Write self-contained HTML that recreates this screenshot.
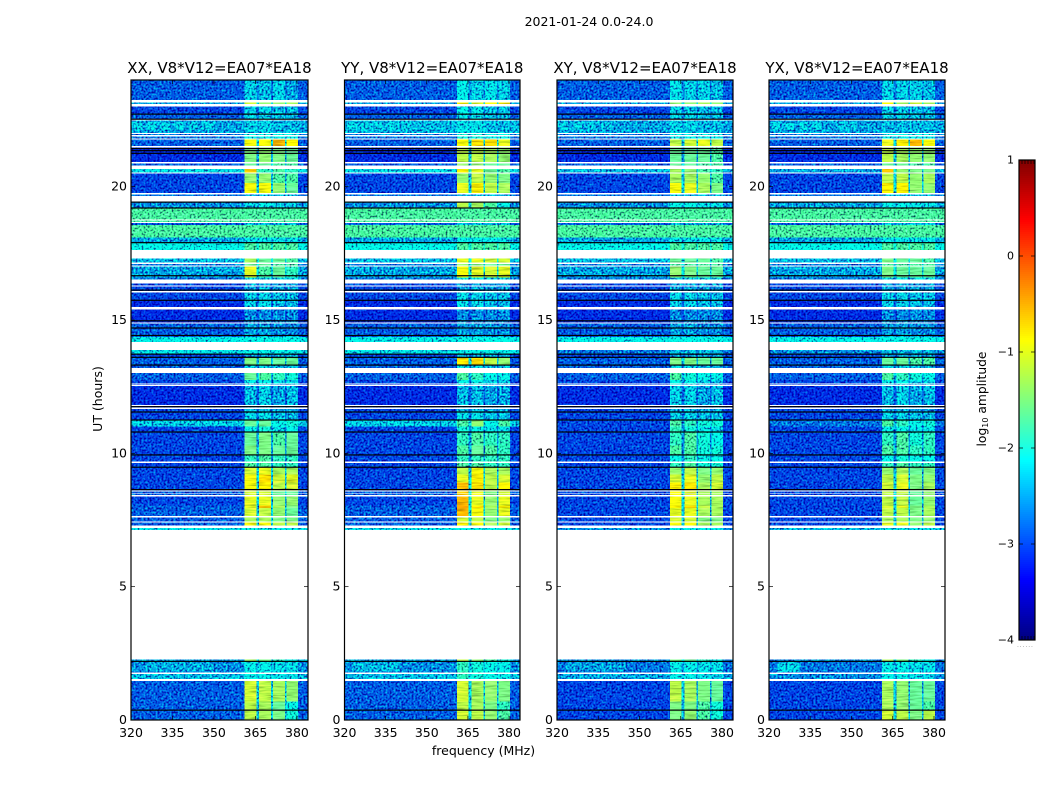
<!DOCTYPE html>
<html lang="en">
<head>
<meta charset="utf-8">
<title>2021-01-24 dynamic spectra</title>
<style>
html,body{margin:0;padding:0;background:#fff;}
svg{display:block;}
text{font-family:"DejaVu Sans","Liberation Sans",sans-serif;fill:#000;}
</style>
</head>
<body>
<svg id="chart" xmlns="http://www.w3.org/2000/svg" width="1050" height="800" viewBox="0 0 1050 800">
<defs>
<filter id="speckle" x="0" y="0" width="100%" height="100%" color-interpolation-filters="sRGB">
<feTurbulence type="fractalNoise" baseFrequency="0.5" numOctaves="2" seed="4" result="n"/>
<feColorMatrix in="n" type="matrix" values="1.4 0 0 0 -0.2 1.4 0 0 0 -0.2 0.75 0 0 0 0.125 0 0 0 0 1" result="g"/>
<feComposite in="SourceGraphic" in2="g" operator="arithmetic" k1="1.7" k2="0.15" k3="0" k4="0" result="m"/>
<feColorMatrix in="n" type="matrix" values="0 0 0 0 0 0.9 0 0 0 -0.27 0 0 0 0 0 0 0 0 0 1" result="a"/>
<feComposite in="m" in2="a" operator="arithmetic" k1="0" k2="1" k3="1" k4="-0.07" result="s"/>
<feComposite in="s" in2="SourceAlpha" operator="in"/>
</filter>
<filter id="smooth" x="0" y="0" width="100%" height="100%" color-interpolation-filters="sRGB">
<feTurbulence type="fractalNoise" baseFrequency="0.06 0.6" numOctaves="2" seed="9" result="n"/>
<feColorMatrix in="n" type="matrix" values="0.45 0 0 0 0.275 0.45 0 0 0 0.275 0.45 0 0 0 0.275 0 0 0 0 1" result="g"/>
<feComposite in="SourceGraphic" in2="g" operator="arithmetic" k1="1.7" k2="0.15" k3="0" k4="0"/>
</filter>
</defs>
<text x="589" y="26" font-size="12.5" text-anchor="middle">2021-01-24 0.0-24.0</text>
<text x="483.5" y="755" font-size="12.5" text-anchor="middle">frequency (MHz)</text>
<text x="0" y="0" font-size="12.5" text-anchor="middle" transform="translate(102,399) rotate(-90)">UT (hours)</text>
<text x="0" y="0" font-size="12.3" text-anchor="middle" transform="translate(986,399) rotate(-90)">log<tspan font-size="8" dy="2">10</tspan><tspan dy="-2"> amplitude</tspan></text>
<text x="1017" y="647" font-size="6" letter-spacing="0.9" style="fill:#888">......</text>
</svg>
<script>
// Axis tick values
const freqTicks = [320, 335, 350, 365, 380];
const timeTicks = [0, 5, 10, 15, 20];
const colorTicks = [1, 0, -1, -2, -3, -4];
const colorTickLabels = ['1', '0', '\u22121', '\u22122', '\u22123', '\u22124'];
// Frequency bins (MHz): background, feed 1, gap, feed 2, gap, feed 3, gap, feed 4, background
const freqEdges = [320, 361, 365.3, 366.3, 370.7, 371.3, 375.7, 376.2, 380.4, 384];
// Hours with flagged (black) integrations
const flaggedHours = [0.37, 2.2, 8.64, 9.48, 9.94, 10.8, 11.25, 11.55, 11.75, 13.31, 13.6, 13.72, 14.42, 14.7, 14.97, 15.74, 16.12, 16.66, 17.9, 19.2, 19.42, 21.25, 21.35, 21.43, 22.53, 22.72];
// Observed time ranges (hours); anything outside them is unobserved and stays white
const rowStart = [0,.38,.7,1.54,1.78,2.21,7.13,7.3,7.45,7.65,7.95,8.05,8.43,8.5,8.6,8.9,9.2,9.49,9.69,9.95,10.3,10.82,11,11.26,11.56,11.71,11.81,12.56,12.62,12.75,13.2,13.32,13.61,13.73,14.17,14.37,14.43,14.71,14.91,15.49,15.75,16.08,16.29,16.52,16.6,17.05,17.15,17.63,17.91,18.1,18.57,18.67,18.77,19.21,19.43,19.65,19.76,20.13,20.54,20.79,20.92,21.52,21.8,21.93,22.01,22.52,22.73,23.1,23.25];
const rowEnd = [.36,.7,1.46,1.73,2.19,2.27,7.2,7.4,7.6,7.95,8.05,8.39,8.47,8.56,8.9,9.2,9.47,9.64,9.93,10.3,10.79,11,11.24,11.54,11.67,11.77,12.52,12.58,12.75,13.02,13.3,13.59,13.71,13.87,14.37,14.41,14.69,14.87,15.4,15.73,16.04,16.25,16.36,16.6,17,17.1,17.31,17.89,18.1,18.57,18.64,18.73,19.19,19.41,19.45,19.7,20.13,20.5,20.67,20.87,21.46,21.76,21.88,21.97,22.48,22.71,23,23.15,24];
// log10 amplitude per row: [background, feed 1, feed 2, feed 3, feed 4]
const ampXX = [[-3,-1.4,-1.5,-1.7,-2.1],[-3,-1.4,-1.5,-1.8,-2.2],[-3,-1.3,-1.4,-1.5,-1.6],[-2.6,-2.3,-2.3,-2.4,-2.4],[-2.8,-2.3,-2.3,-2.4,-2.4],[-2.7,-1.5,-1.7,-2,-2.2],[-2.4,-2.2,-2.2,-2.3,-2.3],[-3,-1.1,-1.1,-1.4,-1.4],[-3,-1.5,-1.5,-1.7,-1.7],[-3,-1.3,-1.4,-1.6,-1.8],[-3,-1.2,-.8,-1.5,-1.7],[-3.1,-1.2,-1.2,-1.6,-1.6],[-3,-1.3,-1.3,-1.8,-1.8],[-3,-1.3,-1.3,-1.8,-1.8],[-3.1,-1.1,-1,-1.4,-1.3],[-3.1,-1.1,-.9,-1.3,-1.2],[-3.1,-1.3,-1.2,-1.5,-1.5],[-3.1,-1.9,-1.9,-2,-2],[-3.1,-2,-1.9,-2,-2],[-3.1,-1.7,-1.7,-1.8,-1.8],[-3.1,-1.8,-1.7,-1.9,-1.8],[-3.1,-2.2,-2.1,-2.4,-2.3],[-2.5,-1.8,-1.8,-2.2,-2.1],[-3.1,-2.5,-2.4,-2.6,-2.6],[-3.1,-2.6,-2.6,-2.7,-2.7],[-3.1,-2.6,-2.6,-2.7,-2.7],[-3.2,-2.6,-2.5,-2.7,-2.6],[-3.1,-2.6,-2.5,-2.7,-2.6],[-3.1,-2.3,-2.3,-2.5,-2.5],[-3,-1.8,-1.9,-2,-2.1],[-3,-2.5,-2.5,-2.6,-2.6],[-3,-1.7,-1.7,-1.8,-1.8],[-3.1,-2.7,-2.7,-2.7,-2.7],[-2.4,-2.3,-2.3,-2.3,-2.3],[-2.3,-2.2,-2.2,-2.2,-2.2],[-3,-2.7,-2.7,-2.7,-2.7],[-3,-2.7,-2.7,-2.8,-2.8],[-3,-2.7,-2.7,-2.8,-2.8],[-3.2,-2.8,-2.8,-2.8,-2.8],[-3.2,-2.5,-2.4,-2.6,-2.6],[-3.1,-2.5,-2.5,-2.6,-2.6],[-3.1,-2.7,-2.7,-2.7,-2.7],[-3.1,-2.7,-2.7,-2.7,-2.7],[-2.9,-2.4,-2.4,-2.4,-2.4],[-2.7,-1.2,-1.9,-1.8,-2],[-2.9,-1.8,-1.8,-1.9,-1.9],[-2.6,-1.5,-1.8,-1.8,-1.9],[-2.2,-1.9,-1.9,-1.9,-1.9],[-2.7,-2.4,-2.4,-2.4,-2.4],[-1.9,-1.9,-1.9,-1.9,-1.9],[-3,-2.6,-2.6,-2.6,-2.6],[-1.9,-1.9,-1.9,-1.9,-1.9],[-1.9,-1.9,-1.9,-1.9,-1.9],[-2.8,-2.5,-2.3,-2.5,-2.5],[-3,-2.8,-2.8,-2.8,-2.8],[-2.9,-2.6,-2.6,-2.6,-2.6],[-3.1,-1.1,-1.1,-1.6,-1.8],[-3.1,-1.6,-1.6,-1.9,-1.9],[-2.4,-.8,-2,-1.9,-2],[-3,-1.8,-1.8,-1.9,-1.9],[-3.2,-1.7,-1.6,-1.7,-1.8],[-3,-1.1,-1.1,-.7,-1],[-2.9,-2.2,-2.2,-2.2,-2.2],[-2.9,-2.2,-2.2,-2.2,-2.2],[-2.7,-2.5,-2.5,-2.6,-2.6],[-3,-2.5,-2.5,-2.6,-2.6],[-3.1,-2.5,-2.5,-2.6,-2.6],[-2.7,-1.3,-1.6,-1.6,-1.5],[-3,-2.5,-2.6,-2.5,-2.7]];
const ampYY = [[-3,-1.3,-1.4,-1.6,-1.9],[-3,-1.4,-1.5,-1.7,-2],[-3,-1.3,-1.5,-1.6,-1.7],[-2.6,-2,-2.1,-2.2,-2.3],[-2.8,-2,-2.1,-2.2,-2.3],[-2.7,-1.4,-1.6,-1.9,-2.1],[-2.4,-2.2,-2.2,-2.3,-2.3],[-3,-1,-1.1,-1.5,-1.3],[-3,-1.3,-1.4,-1.7,-1.6],[-3,-.7,-1.1,-1.6,-1.2],[-3,-.6,-.9,-1.5,-1],[-3.1,-.7,-1.2,-1.6,-1.2],[-3,-.8,-1.2,-1.7,-1.3],[-3,-.8,-1.2,-1.7,-1.3],[-3.1,-.7,-.9,-1.4,-1],[-3.1,-1.2,-1,-1.4,-1.3],[-3.1,-1.4,-1.1,-1.5,-1.5],[-3.1,-1.9,-1.9,-2,-2],[-3.1,-2,-2,-2,-2],[-3.1,-1.9,-1.8,-1.9,-2],[-3.1,-2,-1.9,-2,-2],[-3.1,-2.1,-2.2,-2.4,-2.4],[-2.5,-1.9,-1.6,-2.2,-1.9],[-3.1,-2.4,-2.4,-2.6,-2.6],[-3.1,-2.6,-2.6,-2.7,-2.7],[-3.1,-2.6,-2.6,-2.7,-2.7],[-3.2,-2.6,-2.6,-2.7,-2.7],[-3.1,-2.5,-2.5,-2.7,-2.7],[-3.1,-2.2,-2.2,-2.5,-2.5],[-3,-1.9,-2,-2.2,-2.3],[-3,-2.3,-2.4,-2.6,-2.6],[-3,-.9,-.9,-1.4,-1.6],[-3.1,-2.7,-2.7,-2.7,-2.7],[-2.4,-2.3,-2.3,-2.3,-2.3],[-2.3,-2.2,-2.2,-2.2,-2.2],[-3,-2.7,-2.7,-2.7,-2.7],[-3,-2.7,-2.7,-2.8,-2.8],[-3,-2.7,-2.7,-2.8,-2.8],[-3.2,-2.8,-2.8,-2.8,-2.8],[-3.2,-2.4,-2.4,-2.6,-2.6],[-3.1,-2.4,-2.5,-2.6,-2.6],[-3.1,-2.7,-2.7,-2.7,-2.7],[-3.1,-2.7,-2.7,-2.7,-2.7],[-2.9,-2.3,-2.3,-2.4,-2.4],[-2.7,-1.1,-1.2,-1.3,-1.2],[-2.9,-1.6,-1.7,-1.8,-1.8],[-2.6,-1.2,-1.2,-1.3,-1.3],[-2.2,-1.9,-1.9,-1.9,-1.9],[-2.7,-2.3,-2.3,-2.4,-2.4],[-1.9,-1.9,-1.9,-1.9,-1.9],[-3,-2.6,-2.6,-2.6,-2.6],[-1.9,-1.9,-1.9,-1.9,-1.9],[-1.9,-1.9,-1.9,-1.9,-1.9],[-2.8,-1.4,-1.5,-1.9,-2.2],[-3,-2.8,-2.8,-2.8,-2.8],[-2.9,-2.6,-2.6,-2.6,-2.6],[-3.1,-1.2,-1,-1.4,-1.5],[-3.1,-1.6,-1.4,-1.6,-1.7],[-2.4,-1,-1.2,-1.8,-1.9],[-3,-1.6,-1.6,-1.8,-1.8],[-3.2,-1.4,-1.4,-1.5,-1.6],[-3,-1.1,-.9,-.9,-1.2],[-2.9,-2.1,-2.1,-2.2,-2.2],[-2.9,-2.1,-2.1,-2.2,-2.2],[-2.6,-2.4,-2.4,-2.6,-2.6],[-3,-2.4,-2.4,-2.6,-2.6],[-3.1,-2.3,-2.4,-2.6,-2.6],[-2.7,-1,-1.2,-1.1,-1],[-3,-2.3,-2.5,-2.4,-2.5]];
const ampXY = [[-3.1,-1.7,-1.6,-1.9,-2.1],[-3.1,-1.7,-1.7,-1.9,-2.1],[-3.1,-1.4,-1.5,-1.7,-1.8],[-2.7,-2.3,-2.3,-2.4,-2.5],[-2.9,-2.3,-2.3,-2.4,-2.4],[-2.8,-1.7,-1.8,-2,-2.2],[-2.8,-2.3,-2.3,-2.4,-2.4],[-3.1,-1.1,-1.1,-1.5,-1.5],[-3.1,-1.3,-1.3,-1.7,-1.7],[-3.1,-1.2,-1.2,-1.5,-1.5],[-3.1,-1,-.9,-1.4,-1.5],[-3.1,-1.1,-1.2,-1.5,-1.5],[-3.1,-1.1,-1.2,-1.5,-1.5],[-3.1,-1.1,-1.2,-1.5,-1.5],[-3.1,-1,-.9,-1.5,-1.3],[-3.1,-1.3,-1.2,-1.6,-1.4],[-3.1,-1.6,-1.4,-1.7,-1.6],[-3.1,-2,-1.9,-2.1,-2.1],[-3.1,-2.2,-2,-2.2,-2.2],[-3.1,-1.9,-1.9,-2.1,-2.1],[-3.1,-2,-1.9,-2.1,-2.2],[-3.1,-2,-2.1,-2.3,-2.4],[-3.1,-1.9,-2,-2.1,-2.1],[-3.1,-2.5,-2.5,-2.6,-2.6],[-3.1,-2.6,-2.6,-2.7,-2.7],[-3.1,-2.6,-2.6,-2.7,-2.7],[-3.2,-2.5,-2.5,-2.7,-2.6],[-3.1,-2.4,-2.5,-2.7,-2.7],[-3.1,-2.2,-2.3,-2.5,-2.6],[-3,-1.9,-2.1,-2.2,-2.3],[-3,-2.4,-2.5,-2.6,-2.6],[-3,-1.7,-1.7,-1.8,-1.8],[-3.1,-2.7,-2.7,-2.7,-2.7],[-2.9,-2.6,-2.6,-2.6,-2.6],[-2.3,-2.2,-2.2,-2.2,-2.2],[-3,-2.7,-2.7,-2.7,-2.7],[-3,-2.7,-2.7,-2.8,-2.8],[-3,-2.7,-2.7,-2.8,-2.8],[-3.2,-2.8,-2.8,-2.8,-2.8],[-3.2,-2.5,-2.5,-2.6,-2.6],[-3.1,-2.5,-2.5,-2.6,-2.6],[-3.1,-2.7,-2.7,-2.7,-2.7],[-3.1,-2.7,-2.7,-2.7,-2.7],[-2.9,-2.4,-2.4,-2.4,-2.4],[-2.7,-1.6,-1.7,-1.8,-1.8],[-2.9,-1.9,-1.9,-1.9,-1.9],[-2.6,-1.8,-1.8,-1.8,-1.9],[-2.2,-1.9,-1.9,-1.9,-1.9],[-2.7,-2.4,-2.4,-2.4,-2.4],[-1.9,-1.9,-1.9,-1.9,-1.9],[-3,-2.6,-2.6,-2.6,-2.6],[-1.9,-1.9,-1.9,-1.9,-1.9],[-1.9,-1.9,-1.9,-1.9,-1.9],[-2.8,-2.2,-2.2,-2.4,-2.4],[-3,-2.8,-2.8,-2.8,-2.8],[-2.9,-2.6,-2.6,-2.6,-2.6],[-3.1,-1.1,-1.2,-1.5,-1.7],[-3.1,-1.5,-1.5,-1.6,-1.9],[-2.6,-1.5,-1.6,-1.9,-2],[-3,-1.8,-1.8,-1.9,-1.9],[-3.2,-1.8,-1.8,-1.8,-1.9],[-3,-1.4,-1.3,-1.2,-1.4],[-2.9,-2.3,-2.3,-2.3,-2.3],[-2.9,-2.3,-2.3,-2.3,-2.3],[-2.7,-2.5,-2.5,-2.6,-2.6],[-3,-2.5,-2.5,-2.6,-2.6],[-3.1,-2.5,-2.5,-2.6,-2.6],[-2.7,-1.6,-1.6,-1.5,-1.6],[-3,-2.4,-2.5,-2.5,-2.6]];
const ampYX = [[-3.1,-1.3,-1.4,-1.7,-1.4],[-3.1,-1.5,-1.6,-1.8,-1.9],[-3.1,-1.5,-1.6,-1.8,-1.8],[-2.8,-2.3,-2.3,-2.4,-2.5],[-2.9,-2.3,-2.3,-2.4,-2.4],[-2.8,-1.5,-1.7,-2,-2.2],[-2.6,-2.3,-2.3,-2.4,-2.4],[-3.1,-1.2,-1.2,-1.6,-1.4],[-3.1,-1.5,-1.5,-1.7,-1.6],[-3.1,-1.4,-1.4,-1.7,-1.5],[-3.1,-1.3,-1.2,-1.7,-1.5],[-3.1,-1.4,-1.4,-1.8,-1.6],[-3.1,-1.4,-1.4,-1.8,-1.6],[-3.1,-1.4,-1.4,-1.8,-1.6],[-3.1,-1.3,-1.2,-1.7,-1.5],[-3.1,-1.4,-1.3,-1.7,-1.6],[-3.1,-1.6,-1.5,-1.8,-1.7],[-3.1,-2,-1.9,-2,-2],[-3.1,-2.2,-2.1,-2.2,-2.2],[-3.1,-1.9,-1.9,-2,-2],[-3.1,-2,-1.9,-2.1,-2],[-3.1,-2.2,-2.2,-2.4,-2.3],[-2.9,-1.9,-2,-2.2,-2.1],[-3.1,-2.5,-2.5,-2.6,-2.6],[-3.1,-2.6,-2.6,-2.7,-2.7],[-3.1,-2.6,-2.6,-2.7,-2.7],[-3.2,-2.6,-2.5,-2.7,-2.6],[-3.1,-2.5,-2.5,-2.7,-2.6],[-3.1,-2.3,-2.3,-2.5,-2.5],[-3,-1.9,-2,-2.1,-2.2],[-3,-2.5,-2.5,-2.6,-2.6],[-3,-1.8,-1.8,-1.9,-1.9],[-3.1,-2.7,-2.7,-2.7,-2.7],[-2.8,-2.6,-2.6,-2.6,-2.6],[-2.3,-2.2,-2.2,-2.2,-2.2],[-3,-2.7,-2.7,-2.7,-2.7],[-3,-2.7,-2.7,-2.8,-2.8],[-3,-2.7,-2.7,-2.8,-2.8],[-3.2,-2.8,-2.8,-2.8,-2.8],[-3.2,-2.5,-2.5,-2.6,-2.6],[-3.1,-2.5,-2.5,-2.6,-2.6],[-3.1,-2.7,-2.7,-2.7,-2.7],[-3.1,-2.7,-2.7,-2.7,-2.7],[-2.9,-2.4,-2.4,-2.4,-2.4],[-2.7,-1.7,-1.8,-1.8,-1.8],[-2.9,-1.9,-1.9,-1.9,-1.9],[-2.6,-1.7,-1.8,-1.8,-1.9],[-2.2,-1.9,-1.9,-1.9,-1.9],[-2.7,-2.4,-2.4,-2.4,-2.4],[-1.9,-1.9,-1.9,-1.9,-1.9],[-3,-2.6,-2.6,-2.6,-2.6],[-1.9,-1.9,-1.9,-1.9,-1.9],[-1.9,-1.9,-1.9,-1.9,-1.9],[-2.7,-2.3,-2.3,-2.4,-2.4],[-3,-2.8,-2.8,-2.8,-2.8],[-2.9,-2.6,-2.6,-2.6,-2.6],[-3.1,-1,-1,-1.6,-1.6],[-3.1,-1.4,-1.4,-1.6,-1.5],[-2.7,-.8,-1.6,-1.7,-1.7],[-3,-1.8,-1.8,-1.9,-1.9],[-3.2,-1.4,-1.5,-1.6,-1.6],[-3,-1.2,-1,-.7,-1.1],[-2.9,-2.3,-2.3,-2.3,-2.3],[-2.9,-2.3,-2.3,-2.3,-2.3],[-2.7,-2.6,-2.6,-2.6,-2.6],[-3,-2.5,-2.5,-2.6,-2.6],[-3.1,-2.5,-2.5,-2.6,-2.6],[-2.7,-1,-1.5,-1.3,-1.5],[-3,-2.5,-2.5,-2.5,-2.6]];
// Brighter interference patches: [start hour, end hour, start MHz, end MHz, log10 amplitude]
const patchesXX = [[22.12,22.42,321,324,-2.42],[22.12,22.42,326,329,-2.42],[22.12,22.42,331,334,-2.45],[22.12,22.42,336,339,-2.45],[22.12,22.42,341,344,-2.5],[22.12,22.42,346,350,-2.5],[1.82,2.15,325,350,-2.65]];
const patchesYY = [[22.12,22.42,321,324,-2.42],[22.12,22.42,326,329,-2.42],[22.12,22.42,331,334,-2.45],[22.12,22.42,336,339,-2.45],[22.12,22.42,341,344,-2.5],[1.82,2.15,323,340,-2.6]];
const patchesXY = [[22.12,22.42,321,324,-2.45],[22.12,22.42,326,329,-2.45],[22.12,22.42,331,334,-2.5],[22.12,22.42,336,340,-2.55],[1.82,2.15,323,345,-2.7]];
const patchesYX = [[22.12,22.42,321,324,-2.42],[22.12,22.42,326,329,-2.42],[22.12,22.42,331,334,-2.42],[22.12,22.42,336,339,-2.45],[22.12,22.42,345,352,-2.55],[1.8,2.15,323,331,-2.45]];

const SVGNS = 'http://www.w3.org/2000/svg';
const svg = document.getElementById('chart');
const panelTop = 80, panelBottom = 720;
const freqMin = 320, freqMax = 384, timeMin = 0, timeMax = 24;
const logMin = -4, logMax = 1;
const barLeft = 1019, barRight = 1035, barTop = 160, barBottom = 640;
const panels = [
  {key: 'xx', title: 'XX, V8*V12=EA07*EA18', left: 131, right: 308, amp: ampXX, patches: patchesXX},
  {key: 'yy', title: 'YY, V8*V12=EA07*EA18', left: 344.5, right: 520, amp: ampYY, patches: patchesYY},
  {key: 'xy', title: 'XY, V8*V12=EA07*EA18', left: 557, right: 733, amp: ampXY, patches: patchesXY},
  {key: 'yx', title: 'YX, V8*V12=EA07*EA18', left: 769, right: 945, amp: ampYX, patches: patchesYX}
];

function timeY(t) { return panelBottom - (t - timeMin) / (timeMax - timeMin) * (panelBottom - panelTop); }
function logY(v) { return barBottom - (v - logMin) / (logMax - logMin) * (barBottom - barTop); }
function clamp01(v) { return Math.max(0, Math.min(1, v)); }
function jet(v) {
  const n = clamp01((v - logMin) / (logMax - logMin));
  const r = clamp01(Math.min(4 * n - 1.5, -4 * n + 4.5));
  const g = clamp01(Math.min(4 * n - 0.5, -4 * n + 3.5));
  const b = clamp01(Math.min(4 * n + 0.5, -4 * n + 2.5));
  return 'rgb(' + Math.round(r * 255) + ',' + Math.round(g * 255) + ',' + Math.round(b * 255) + ')';
}
// Calibrates the estimated levels to the displayed colour: faint values sink, bright values lift
function cellColor(v) {
  return jet(v < -2.4 ? -2.4 + 1.13 * (v + 2.4) : v + Math.min(0.18, 0.36 * (v + 2.4)));
}
function make(parent, tag, attrs) {
  const el = document.createElementNS(SVGNS, tag);
  for (const k in attrs) el.setAttribute(k, attrs[k]);
  parent.appendChild(el);
  return el;
}

panels.forEach(function (p) {
  const freqX = function (f) { return p.left + (f - freqMin) / (freqMax - freqMin) * (p.right - p.left); };
  const group = make(svg, 'g', {});
  
  

  const cells = make(group, 'g', {filter: 'url(#speckle)', 'shape-rendering': 'crispEdges'});
  
  
  const feeds = make(group, 'g', {filter: 'url(#smooth)', 'shape-rendering': 'crispEdges'});
  
  
  rowStart.forEach(function (t0, r) {
    const t1 = rowEnd[r];
    const row = p.amp[r];
    const bg = row[0];
    // column values in freqEdges order; gaps between feeds sit just above background
    const values = [bg, row[1], bg + 0.3 * (row[1] - bg), row[2], bg + 0.3 * (row[2] - bg), row[3], bg + 0.3 * (row[3] - bg), row[4], bg];
    values.forEach(function (v, c) {
      const cell = make(v > -1.85 ? feeds : cells, 'rect', {
        x: freqX(freqEdges[c]),
        y: timeY(t1),
        width: freqX(freqEdges[c + 1]) - freqX(freqEdges[c]),
        height: timeY(t0) - timeY(t1),
        fill: cellColor(v)
      });
      
      
    });
  });
  p.patches.forEach(function (d) {
    const patch = make(cells, 'rect', {
      x: freqX(d[2]),
      y: timeY(d[1]),
      width: freqX(d[3]) - freqX(d[2]),
      height: timeY(d[0]) - timeY(d[1]),
      fill: cellColor(d[4])
    });
    
    
  });

  flaggedHours.forEach(function (t) {
    const line = make(group, 'rect', {x: p.left, y: timeY(t) - 0.6, width: p.right - p.left, height: 1.2, fill: '#000'});
    
    
  });

  const frame = make(group, 'rect', {x: p.left, y: panelTop, width: p.right - p.left, height: panelBottom - panelTop, fill: 'none', stroke: '#000', 'stroke-width': 1.2});
  
  

  const title = make(group, 'text', {x: (p.left + p.right) / 2, y: 73, 'font-size': 15, 'text-anchor': 'middle'});
  title.textContent = p.title;
  
  

  freqTicks.forEach(function (f) {
    const x = freqX(f);
    const top = make(group, 'line', {x1: x, x2: x, y1: panelTop, y2: panelTop + 4, stroke: '#000', 'stroke-width': 0.7});
    
    
    const bottom = make(group, 'line', {x1: x, x2: x, y1: panelBottom, y2: panelBottom - 4, stroke: '#000', 'stroke-width': 0.7});
    
    
    const label = make(group, 'text', {x: x, y: 737, 'font-size': 12.5, 'text-anchor': 'middle'});
    label.textContent = String(f);
    
    
  });

  timeTicks.forEach(function (t) {
    const y = timeY(t);
    const l = make(group, 'line', {x1: p.left, x2: p.left + 4, y1: y, y2: y, stroke: '#000', 'stroke-width': 0.7});
    
    
    const r = make(group, 'line', {x1: p.right, x2: p.right - 4, y1: y, y2: y, stroke: '#000', 'stroke-width': 0.7});
    
    
    const label = make(group, 'text', {x: p.left - 4, y: y + 4, 'font-size': 12.5, 'text-anchor': 'end'});
    label.textContent = String(t);
    
    
  });
});

// Colorbar
const bar = make(svg, 'g', {});


const barRamp = make(bar, 'g', {'shape-rendering': 'crispEdges'});


for (let y = barTop; y < barBottom; y += 2) {
  const value = logMax - (y + 1 - barTop) / (barBottom - barTop) * (logMax - logMin);
  const swatch = make(barRamp, 'rect', {x: barLeft, y: y, width: barRight - barLeft, height: 2, fill: jet(value)});
  
  
}
const barFrame = make(bar, 'rect', {x: barLeft, y: barTop, width: barRight - barLeft, height: barBottom - barTop, fill: 'none', stroke: '#000', 'stroke-width': 1.2});


colorTicks.forEach(function (v, i) {
  const y = logY(v);
  const l = make(bar, 'line', {x1: barLeft, x2: barLeft + 4, y1: y, y2: y, stroke: '#000', 'stroke-width': 0.7});
  
  
  const r = make(bar, 'line', {x1: barRight, x2: barRight - 4, y1: y, y2: y, stroke: '#000', 'stroke-width': 0.7});
  
  
  const label = make(bar, 'text', {x: barLeft - 5, y: y + 3.5, 'font-size': 11, 'text-anchor': 'end'});
  label.textContent = colorTickLabels[i];
  
  
});
for (let x = barLeft + 3; x < barRight; x += 3) {
  const t = make(bar, 'line', {x1: x, x2: x, y1: barTop, y2: barTop + 4, stroke: '#000', 'stroke-width': 0.7});
  
  
  const b = make(bar, 'line', {x1: x, x2: x, y1: barBottom, y2: barBottom - 4, stroke: '#000', 'stroke-width': 0.7});
  
  
}
</script>
</body>
</html>
